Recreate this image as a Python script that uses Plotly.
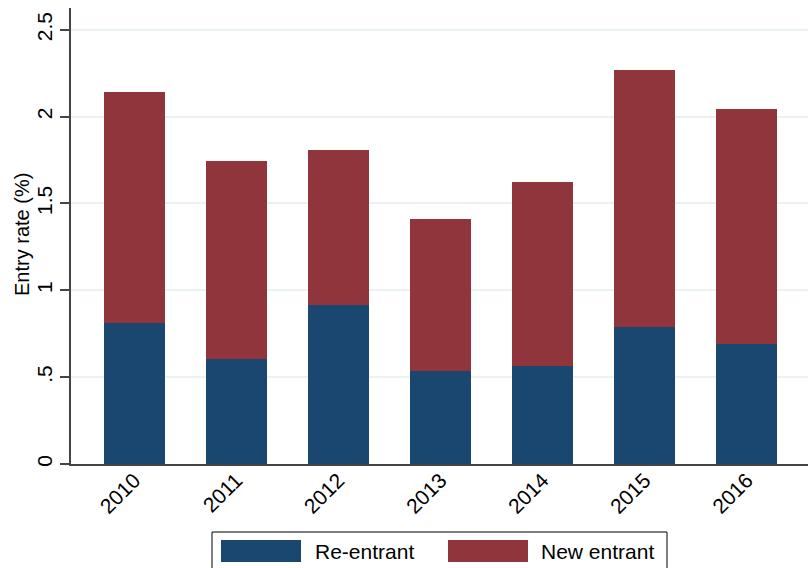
import plotly.graph_objects as go

years = ["2010", "2011", "2012", "2013", "2014", "2015", "2016"]
re_entrant = [0.81, 0.605, 0.914, 0.536, 0.563, 0.787, 0.691]
total_rate = [2.14, 1.744, 1.806, 1.408, 1.623, 2.268, 2.042]
new_entrant = [round(t - r, 3) for t, r in zip(total_rate, re_entrant)]

y_tickvals = [0, 0.5, 1, 1.5, 2, 2.5]
y_ticktext = ["0", ".5", "1", "1.5", "2", "2.5"]

series_names = ["Re-entrant", "New entrant"]
series_colors = ["#1a476f", "#90353b"]

W, H = 810, 568
L, R, T, B = 71, 808, 8, 464

def px(x):
    return (x - L) / (R - L)

def py(y):
    return (B - y) / (B - T)

FONT = "Liberation Sans, Arial, sans-serif"

fig = go.Figure()
fig.add_trace(go.Bar(x=years, y=re_entrant, name=series_names[0],
                     marker=dict(color=series_colors[0], line=dict(width=0)), width=0.6))
fig.add_trace(go.Bar(x=years, y=new_entrant, name=series_names[1],
                     marker=dict(color=series_colors[1], line=dict(width=0)), width=0.6))

fig.update_layout(
    width=W, height=H,
    margin=dict(l=L, r=W - R, t=T, b=H - B, pad=0, autoexpand=False),
    barmode="stack",
    showlegend=False,
    plot_bgcolor="white",
    paper_bgcolor="white",
    font=dict(family=FONT, size=20, color="black"),
)

fig.update_xaxes(
    type="category",
    range=[-0.62, 6.6],
    showline=True, linecolor="#444", linewidth=1.5,
    ticks="", tickangle=-45,
    tickfont=dict(size=21),
    ticklabelstandoff=-6,
    showgrid=False, zeroline=False, automargin=False,
)
fig.update_yaxes(
    range=[0, 2.625],
    tickmode="array", tickvals=y_tickvals, ticktext=y_ticktext,
    tickangle=-90,
    ticks="outside", ticklen=9, tickcolor="#444", tickwidth=1.5,
    showline=True, linecolor="#444", linewidth=1.5,
    showgrid=True, gridcolor="#eaf2f3", gridwidth=1.5,
    zeroline=False, automargin=False,
    tickfont=dict(size=21),
)

# y-axis title
fig.add_annotation(text="Entry rate (%)", xref="paper", yref="paper",
                   x=px(22), y=py(235), textangle=-90, showarrow=False,
                   font=dict(size=20), xanchor="center", yanchor="middle")

# legend box
fig.add_shape(type="rect", xref="paper", yref="paper",
              x0=px(212), x1=px(667), y0=py(572), y1=py(532),
              line=dict(color="black", width=1), fillcolor="white")
fig.add_shape(type="rect", xref="paper", yref="paper",
              x0=px(221), x1=px(301), y0=py(562), y1=py(540),
              line=dict(width=0), fillcolor=series_colors[0])
fig.add_shape(type="rect", xref="paper", yref="paper",
              x0=px(448), x1=px(528), y0=py(562), y1=py(540),
              line=dict(width=0), fillcolor=series_colors[1])
fig.add_annotation(text=series_names[0], xref="paper", yref="paper",
                   x=px(313), y=py(551), showarrow=False, xanchor="left",
                   yanchor="middle", font=dict(size=21))
fig.add_annotation(text=series_names[1], xref="paper", yref="paper",
                   x=px(539), y=py(551), showarrow=False, xanchor="left",
                   yanchor="middle", font=dict(size=21))

fig.write_html("out.html", config={"displayModeBar": False},
               post_script="document.body.style.margin='0';")
